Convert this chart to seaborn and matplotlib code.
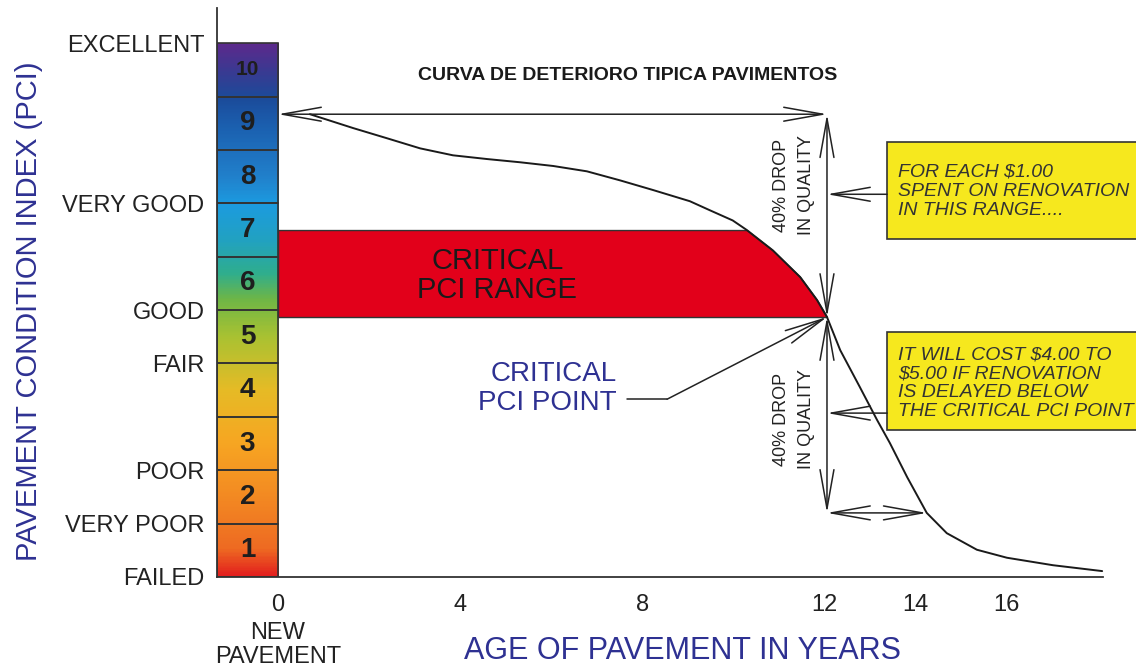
import numpy as np
import matplotlib
matplotlib.use("Agg")
import matplotlib.pyplot as plt
from matplotlib.colors import LinearSegmentedColormap
from matplotlib.patches import Rectangle
import seaborn as sns

# ===========================
# Data
# ===========================

# deterioration curve (age in years, PCI)
age_years = [0.70, 1.65, 2.39, 3.12, 3.84, 4.59, 5.31, 6.04, 6.78, 7.51, 8.23,
             9.04, 9.48, 9.98, 10.29, 10.86, 11.46, 11.83, 12.05,
             12.34, 12.77, 13.15, 13.43, 13.81, 14.24, 14.68, 15.34, 16.00,
             17.01, 18.09]
pci_values = [8.67, 8.41, 8.22, 8.03, 7.90, 7.83, 7.77, 7.70, 7.60, 7.43, 7.25,
              7.04, 6.87, 6.68, 6.50, 6.12, 5.62, 5.19, 4.87,
              4.25, 3.56, 2.94, 2.51, 1.87, 1.20, 0.82, 0.51, 0.36,
              0.22, 0.11]

pci_levels = [1, 2, 3, 4, 5, 6, 7, 8, 9, 10]
rating_ticks = [0, 1, 2, 4, 5, 7, 10]
rating_labels = ["FAILED", "VERY POOR", "POOR", "FAIR", "GOOD", "VERY GOOD", "EXCELLENT"]
age_ticks = [0, 4, 8, 12, 14, 16]

new_pavement_pci = 8.67
critical_age = 12.05
critical_pci = 4.87
critical_range_top = 6.50
late_age = 14.24
late_pci = 1.20

box_upper_text = "FOR EACH $1.00\nSPENT ON RENOVATION\nIN THIS RANGE...."
box_lower_text = "IT WILL COST $4.00 TO\n$5.00 IF RENOVATION\nIS DELAYED BELOW\nTHE CRITICAL PCI POINT"

# ===========================
# Style
# ===========================
sns.set_theme(style="white")
plt.rcParams["font.family"] = ["Liberation Sans", "DejaVu Sans"]

NAVY = "#2e3192"
INK = "#222222"
RED = "#e2001a"
YELLOW = "#f6e81e"

bar_cmap = LinearSegmentedColormap.from_list("pci", [
    (0.00, "#e3201e"), (0.05, "#ee6a22"), (0.15, "#f38a22"), (0.25, "#f7a622"),
    (0.35, "#e6bb26"), (0.45, "#a9c232"), (0.52, "#6fb646"), (0.57, "#2fae8e"),
    (0.63, "#22a2c0"), (0.70, "#1c9be0"), (0.75, "#2181cc"), (0.85, "#1b5eae"),
    (0.90, "#1c4b9a"), (0.95, "#3a3a92"), (1.00, "#5b2a8c")])

fig = plt.figure(figsize=(11.36, 6.67), dpi=100)
ax = fig.add_axes([0.191, 0.135, 0.7796, 0.853])

# ===========================
# PCI colour scale on the left
# ===========================
bar_left = -1.34
ax.imshow(np.linspace(0, 10, 400).reshape(-1, 1), extent=[bar_left, 0, 0, 10],
          origin="lower", aspect="auto", cmap=bar_cmap, vmin=0, vmax=10, zorder=1)
ax.bar(x=bar_left / 2, height=1, bottom=[l - 1 for l in pci_levels], width=-bar_left,
       facecolor="none", edgecolor="#333333", linewidth=1.2, zorder=3)
for lvl in pci_levels:
    ax.text(bar_left / 2, lvl - 0.5, str(lvl), ha="center", va="center",
            fontsize=20 if lvl < 10 else 15, fontweight="bold", color="#1e1e1e", zorder=4)

# ===========================
# Critical PCI range (red)
# ===========================
x_fill = [0] + [a for a in age_years if a <= critical_age]
y_fill = [critical_range_top] + [min(p, critical_range_top)
                                 for a, p in zip(age_years, pci_values) if a <= critical_age]
ax.fill_between(x_fill, critical_pci, y_fill, facecolor=RED, edgecolor="#333333",
                linewidth=1.0, zorder=2)
ax.text(4.81, 5.64, "CRITICAL\nPCI RANGE", ha="center", va="center", fontsize=21,
        color="#1a1a1a", linespacing=1.05, zorder=4)

# ===========================
# Deterioration curve
# ===========================
sns.lineplot(x=age_years, y=pci_values, sort=False, color="#1a1a1a", linewidth=1.4,
             ax=ax, zorder=5, clip_on=False)


def arrow(p_from, p_to, style="<->"):
    ax.annotate("", xy=p_to, xytext=p_from,
                arrowprops=dict(arrowstyle=style + ",head_length=1.4,head_width=0.25",
                                mutation_scale=20, color=INK, lw=1.1,
                                shrinkA=0, shrinkB=0), zorder=6)


arrow((0, new_pavement_pci), (critical_age, new_pavement_pci))
arrow((critical_age, new_pavement_pci), (critical_age, critical_pci))
arrow((critical_age, critical_pci), (critical_age, late_pci))
arrow((critical_age, late_pci), (late_age, late_pci))

# ===========================
# Yellow notes
# ===========================
ax.add_patch(Rectangle((13.37, 6.33), 6.0, 1.82, facecolor=YELLOW, edgecolor="#333333",
                       linewidth=1.2, clip_on=False, zorder=6))
ax.add_patch(Rectangle((13.37, 2.75), 6.0, 1.84, facecolor=YELLOW, edgecolor="#333333",
                       linewidth=1.2, clip_on=False, zorder=6))
ax.text(13.61, 7.23, box_upper_text, ha="left", va="center", fontsize=14,
        style="italic", color="#333333", linespacing=1.15, zorder=7)
ax.text(13.61, 3.63, box_lower_text, ha="left", va="center", fontsize=14,
        style="italic", color="#333333", linespacing=1.15, zorder=7)
arrow((13.37, 7.17), (critical_age, 7.17), "->")
arrow((13.37, 3.07), (critical_age, 3.07), "->")

ax.text(11.33, 7.34, "40% DROP\nIN QUALITY", rotation=90, ha="center", va="center",
        fontsize=13, color=INK, linespacing=1.6)
ax.text(11.33, 2.96, "40% DROP\nIN QUALITY", rotation=90, ha="center", va="center",
        fontsize=13, color=INK, linespacing=1.6)

# critical PCI point callout
ax.text(7.43, 3.54, "CRITICAL\nPCI POINT", ha="right", va="center", fontsize=20,
        color=NAVY, multialignment="right", linespacing=1.15)
ax.plot([7.66, 8.54], [3.33, 3.33], color=INK, lw=1.1)
arrow((8.54, 3.33), (critical_age, critical_pci), "->")

ax.text(7.68, 9.40, "CURVA DE DETERIORO TIPICA PAVIMENTOS", ha="center", va="center",
        fontsize=14, fontweight="bold", color="#1a1a1a")

# ===========================
# Axes
# ===========================
ax.set_xlim(bar_left, 18.1)
ax.set_ylim(0, 10.66)
for side in ["top", "right"]:
    ax.spines[side].set_visible(False)
for side in ["left", "bottom"]:
    ax.spines[side].set_color("#333333")
    ax.spines[side].set_linewidth(1.3)

ax.set_yticks(rating_ticks, rating_labels)
ax.tick_params(axis="y", length=0, pad=9, labelsize=17, labelcolor=INK)
ax.set_xticks(age_ticks, [str(t) for t in age_ticks])
ax.tick_params(axis="x", direction="in", length=25, width=1.3, color="#333333",
               pad=12, labelsize=17, labelcolor=INK)
ax.text(0, -1.27, "NEW\nPAVEMENT", ha="center", va="center", fontsize=17,
        color=INK, linespacing=1.1)

ax.set_xlabel("AGE OF PAVEMENT IN YEARS", fontsize=22, color=NAVY)
ax.xaxis.set_label_coords(0.526, -0.104)
ax.set_ylabel("PAVEMENT CONDITION INDEX (PCI)", fontsize=21, color=NAVY)
ax.yaxis.set_label_coords(-0.197, 0.467)

fig.savefig("out.png", dpi=100)
